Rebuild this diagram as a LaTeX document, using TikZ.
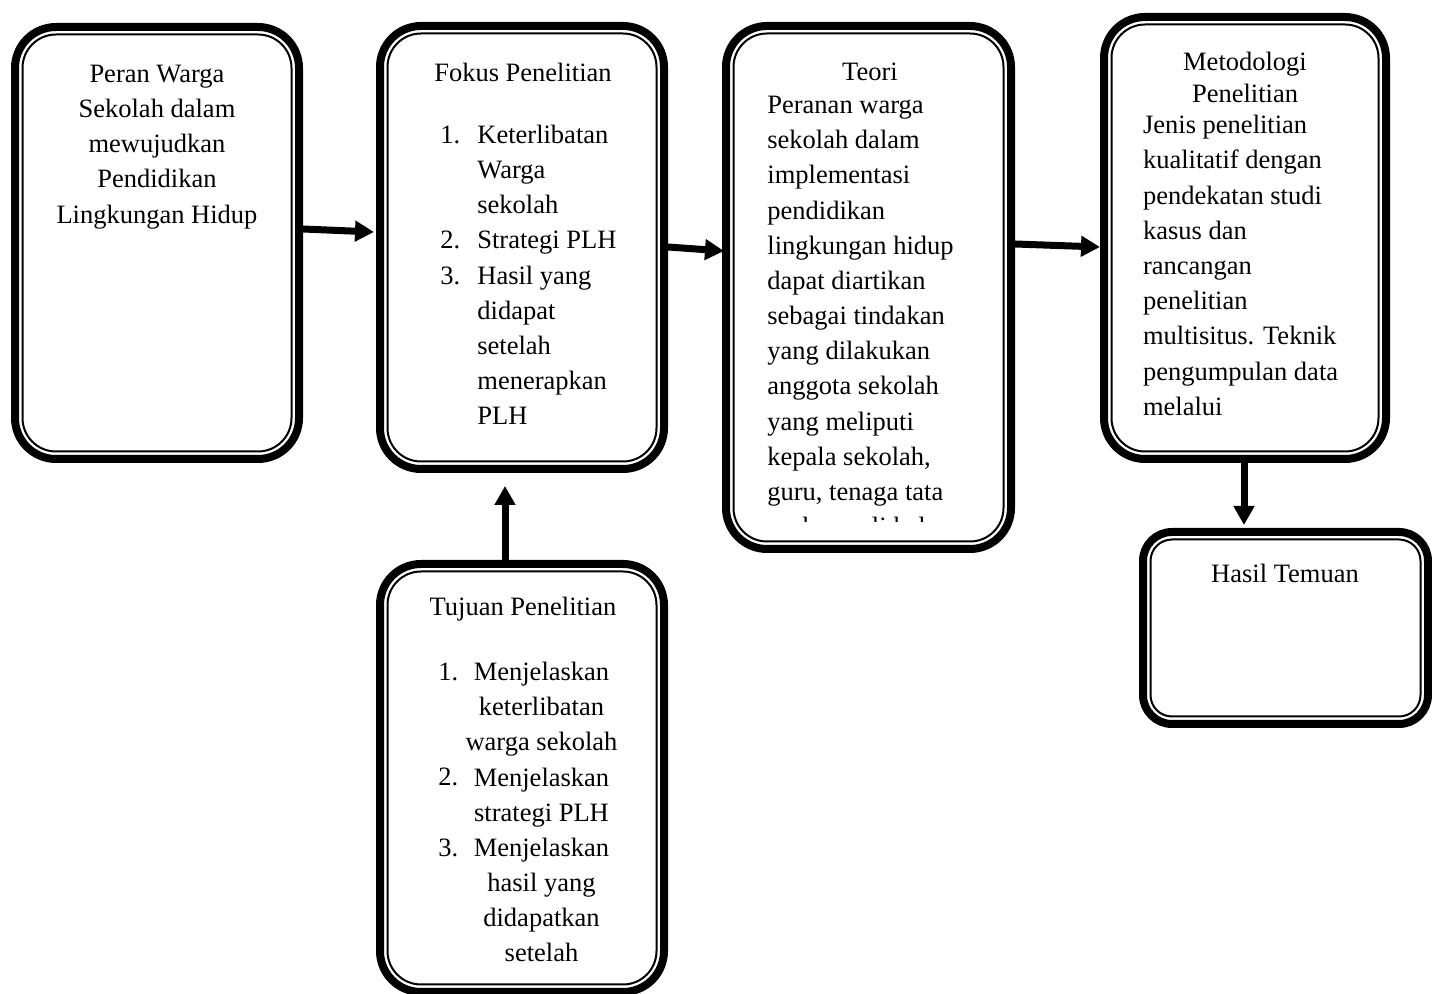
\documentclass[tikz,border=0pt]{standalone}
\usepackage{fontspec}
\setmainfont{Liberation Serif}
\usetikzlibrary{arrows.meta}
\newcommand\firstln{\rule{0pt}{12pt}}
\newcommand\innerbox[2]{\draw[line width=1pt, rounded corners=#2] ([shift={(7.5,7.5)}]#1.north west) rectangle ([shift={(-7.5,-7.5)}]#1.south east);}
\tikzset{
  frame/.style={draw, line width=4pt, rounded corners=20.5pt, inner sep=0pt, outer sep=0pt},
  arr/.style={line width=3.5pt, -{Triangle[length=9.5pt,width=10pt]}},
  txt/.style={inner sep=0pt, font=\fontsize{13.25pt}{17.6pt}\selectfont},
}
\begin{document}
\begin{tikzpicture}[x=0.5pt,y=-0.5pt]
\clip (0,0) rectangle (1432,994);
% boxes
\node[frame, minimum width=142pt, minimum height=216pt] (b1) at (157,243) {};
\node[frame, minimum width=142pt, minimum height=221.5pt] (b2) at (522,247.5) {};
\node[frame, minimum width=142.5pt, minimum height=261.5pt] (b3) at (868.5,287.5) {};
\node[frame, minimum width=141pt, minimum height=221pt] (b4) at (1245,238) {};
\node[frame, rounded corners=14.5pt, minimum width=142.5pt, minimum height=96pt] (b5) at (1285.5,628) {};
\node[frame, minimum width=142pt, minimum height=214pt] (b6) at (522,778) {};
\innerbox{b1}{16.75pt}
\innerbox{b2}{16.75pt}
\innerbox{b3}{16.75pt}
\innerbox{b4}{16.75pt}
\innerbox{b5}{10.75pt}
\innerbox{b6}{16.75pt}
% texts
\node[txt, anchor=north, align=center] (t1) at (157,58)
  {\firstln Peran Warga\\Sekolah dalam\\mewujudkan\\Pendidikan\\Lingkungan Hidup};
\node[txt, anchor=base] (t2a) at (523,82) {Fokus Penelitian};
\node[txt, anchor=north west, align=left] (t2b) at (440,119)
  {\firstln\makebox[18.5pt][l]{1.}Keterlibatan\\\hspace*{18.5pt}Warga\\\hspace*{18.5pt}sekolah\\
   \makebox[18.5pt][l]{2.}Strategi PLH\\\makebox[18.5pt][l]{3.}Hasil yang\\\hspace*{18.5pt}didapat\\
   \hspace*{18.5pt}setelah\\\hspace*{18.5pt}menerapkan\\\hspace*{18.5pt}PLH};
\node[txt, anchor=base] (t3a) at (870,81) {Teori};
\begin{scope}
\clip (726,0) rectangle (1011,522);
\node[txt, anchor=north west, align=left] (t3b) at (767,89)
  {\firstln Peranan warga\\sekolah dalam\\implementasi\\pendidikan\\lingkungan hidup\\dapat diartikan\\
   sebagai tindakan\\yang dilakukan\\anggota sekolah\\yang meliputi\\kepala sekolah,\\guru, tenaga tata\\usaha, wali kelas};
\end{scope}
\node[txt, anchor=north, align=center, font=\fontsize{13.25pt}{15.85pt}\selectfont] (t4a) at (1245,46)
  {\firstln Metodologi\\Penelitian};
\node[txt, anchor=north west, align=left] (t4b) at (1142.7,109.3)
  {\firstln Jenis penelitian\\kualitatif dengan\\pendekatan studi\\kasus dan\\rancangan\\penelitian\\
   multisitus. Teknik\\pengumpulan data\\melalui};
\node[txt, anchor=base] (t5) at (1285,583) {Hasil Temuan};
\node[txt, anchor=base] (t6a) at (523,616) {Tujuan Penelitian};
\node[txt, anchor=north west, align=left] (t6n) at (438,656)
  {\firstln 1.\\ \\ \\2.\\ \\3.};
\node[txt, anchor=north, align=center] (t6b) at (541.5,656)
  {\firstln Menjelaskan\\keterlibatan\\warga sekolah\\Menjelaskan\\strategi PLH\\Menjelaskan\\
   hasil yang\\didapatkan\\setelah};
% arrows
\draw[arr] ([shift={(4,-14)}]b1.east) -- ([shift={(-6,-15.5)}]b2.west);
\draw[arr] ([shift={(4,-0.5)}]b2.east) -- ([shift={(-2,-36.5)}]b3.west);
\draw[arr] ([shift={(4,-43.5)}]b3.east) -- ([shift={(-4,9)}]b4.west);
\draw[arr] ([shift={(-1,4)}]b4.south) -- ([shift={(-41.5,-7)}]b5.north);
\draw[arr] ([shift={(-17,-4)}]b6.north) -- ([shift={(-17,17)}]b2.south);
\end{tikzpicture}
\end{document}
